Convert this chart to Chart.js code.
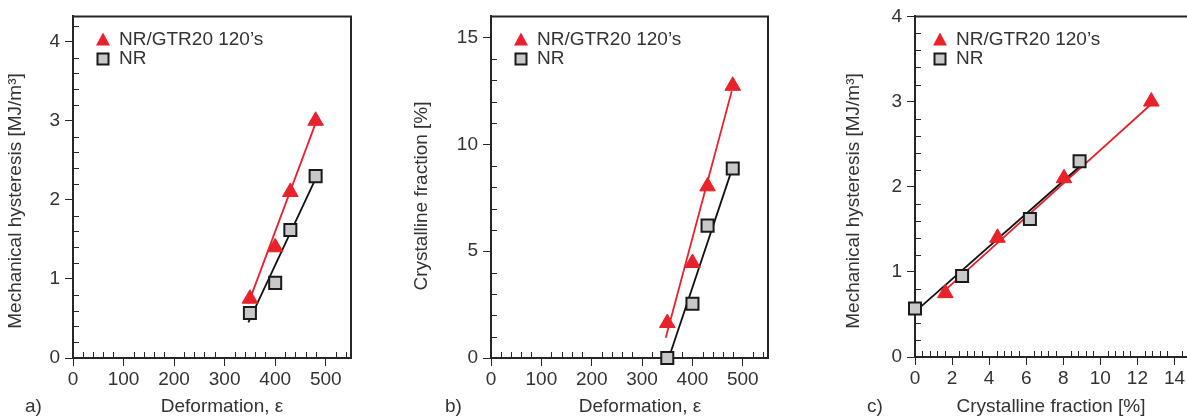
<!DOCTYPE html>
<html lang="en">
<head>
  <meta charset="UTF-8" />
  <title>Mechanical hysteresis and crystalline fraction</title>
  <script src="https://cdn.jsdelivr.net/npm/chart.js"></script>
  <style>
    html, body { margin: 0; padding: 0; background: #fff; }
    body { width: 1187px; height: 419px; overflow: hidden; position: relative; font-family: 'Liberation Sans', Arial, sans-serif; }
    .panel { position: absolute; top: 0; height: 419px; }
  </style>
</head>
<body>
  <div class="panel" style="left:0;width:400px"><canvas id="chartA" width="400" height="419"></canvas></div>
  <div class="panel" style="left:400px;width:390px"><canvas id="chartB" width="390" height="419"></canvas></div>
  <div class="panel" style="left:790px;width:420px"><canvas id="chartC" width="420" height="419"></canvas></div>

  <script>
    // values
    const deformation = [350, 400, 430, 480];
    const hysteresisGTR = [0.75, 1.40, 2.10, 3.00];
    const hysteresisNR = [0.57, 0.95, 1.62, 2.30];
    const crystallineGTR = [1.64, 4.45, 8.04, 12.75];
    const crystallineNR = [0.0, 2.54, 6.20, 8.88];

    // fit line end points (x, y) as drawn in the figure
    const fitA_GTR_x = [347, 480], fitA_GTR_y = [0.69, 2.97];
    const fitA_NR_x = [347, 478], fitA_NR_y = [0.45, 2.24];
    const fitB_GTR_x = [347, 478], fitB_GTR_y = [0.95, 12.5];
    const fitB_NR_x = [353, 478], fitB_NR_y = [0.0, 8.8];
    const fitC_GTR_x = [1.6, 12.8], fitC_GTR_y = [0.78, 2.98];
    const fitC_NR_x = [0.0, 8.9], fitC_NR_y = [0.53, 2.24];

    const legendLabels = ['NR/GTR20 120\u2019s', 'NR'];

    const RED = '#e8212b';
    const GREY = '#c8c8c8';
    const AXIS = '#262626';
    const TEXT = '#333333';
    const FONT = "'Liberation Sans', Arial, sans-serif";
    const FSIZE = 19;

    const pts = (xs, ys) => xs.map((x, i) => ({ x: x, y: ys[i] }));
    const isMultiple = (v, step) => Math.abs(v / step - Math.round(v / step)) < 1e-6;

    // frame + inward minor ticks, drawn under the markers
    const framePlugin = {
      id: 'frame',
      beforeDatasetsDraw(chart, args, o) {
        const { ctx, chartArea: a, scales: { x, y } } = chart;
        ctx.save();
        ctx.strokeStyle = AXIS;
        ctx.lineWidth = 2;
        ctx.beginPath();
        ctx.moveTo(a.left, a.top);
        ctx.lineTo(a.right, a.top);
        ctx.lineTo(a.right, a.bottom);
        ctx.stroke();

        ctx.lineWidth = 1;
        ctx.beginPath();
        for (let i = 1; i * o.xMinor <= x.max + 1e-9; i++) {
          const v = i * o.xMinor;
          if (isMultiple(v, o.xMajor)) continue;
          const px = Math.round(x.getPixelForValue(v)) + 0.5;
          ctx.moveTo(px, a.bottom);
          ctx.lineTo(px, a.bottom - 6);
        }
        for (let i = 1; i * o.yMinor <= y.max + 1e-9; i++) {
          const v = i * o.yMinor;
          if (isMultiple(v, o.yMajor)) continue;
          const py = Math.round(y.getPixelForValue(v)) + 0.5;
          ctx.moveTo(a.left, py);
          ctx.lineTo(a.left + 6, py);
        }
        ctx.stroke();
        ctx.restore();
      }
    };

    // legend, axis titles and panel letter
    const textPlugin = {
      id: 'texts',
      afterDraw(chart, args, o) {
        const { ctx, chartArea: a } = chart;
        ctx.save();
        ctx.font = FSIZE + 'px ' + FONT;
        ctx.textBaseline = 'middle';

        // legend
        const lx = a.left + o.legendDx;
        ctx.fillStyle = RED;
        ctx.beginPath();
        ctx.moveTo(lx, 40 - 7.5);
        ctx.lineTo(lx + 7, 40 + 5.5);
        ctx.lineTo(lx - 7, 40 + 5.5);
        ctx.closePath();
        ctx.fill();
        ctx.fillStyle = GREY;
        ctx.strokeStyle = '#1a1a1a';
        ctx.lineWidth = 2;
        ctx.fillRect(lx - 5.5, 59 - 5.5, 11, 11);
        ctx.strokeRect(lx - 5.5, 59 - 5.5, 11, 11);

        ctx.fillStyle = TEXT;
        ctx.textAlign = 'left';
        ctx.fillText(legendLabels[0], lx + 16, 40);
        ctx.fillText(legendLabels[1], lx + 16, 59);

        // x title and panel letter
        ctx.textAlign = 'center';
        ctx.fillText(o.xTitle, o.xTitleX, 407);
        ctx.textAlign = 'left';
        ctx.fillText(o.letter, o.letterX, 407);

        // y title
        ctx.translate(o.yTitleX, o.yTitleY);
        ctx.rotate(-Math.PI / 2);
        ctx.textAlign = 'center';
        ctx.fillText(o.yTitle, 0, 0);
        ctx.restore();
      }
    };

    function makePanel(id, p) {
      const H = 419;
      const W = document.getElementById(id).width;
      return new Chart(document.getElementById(id), {
        type: 'scatter',
        data: {
          datasets: [
            {
              label: legendLabels[0],
              data: p.gtr,
              pointStyle: 'triangle',
              pointRadius: 9,
              backgroundColor: RED,
              borderColor: RED,
              borderWidth: 1
            },
            {
              label: legendLabels[1],
              data: p.nr,
              pointStyle: 'rect',
              pointRadius: 8.5,
              backgroundColor: GREY,
              borderColor: '#1a1a1a',
              borderWidth: 2
            },
            {
              data: p.fitNR,
              showLine: true,
              pointRadius: 0,
              borderColor: '#111111',
              borderWidth: 1.8
            },
            {
              data: p.fitGTR,
              showLine: true,
              pointRadius: 0,
              borderColor: RED,
              borderWidth: 1.8
            }
          ]
        },
        options: {
          responsive: false,
          animation: false,
          events: [],
          clip: false,
          layout: { padding: { left: 0, top: p.top, right: W - p.right, bottom: 0 } },
          plugins: {
            legend: { display: false },
            tooltip: { enabled: false },
            frame: { xMinor: p.xMinor, xMajor: p.xStep, yMinor: p.yMinor, yMajor: p.yStep },
            texts: p.texts
          },
          scales: {
            x: {
              type: 'linear',
              min: 0,
              max: p.xMax,
              border: { display: true, color: AXIS, width: 2 },
              grid: { drawOnChartArea: false, drawTicks: true, tickLength: 8, tickColor: AXIS, tickWidth: 1 },
              ticks: { stepSize: p.xStep, includeBounds: false, autoSkip: false, color: TEXT, font: { family: FONT, size: FSIZE }, padding: 2, maxRotation: 0, callback: v => String(v) },
              afterBuildTicks: s => { s.ticks = s.ticks.filter(t => isMultiple(t.value, p.xStep)); },
              afterFit: s => { s.height = H - p.bottom; }
            },
            y: {
              type: 'linear',
              min: 0,
              max: p.yMax,
              border: { display: true, color: AXIS, width: 2 },
              grid: { drawOnChartArea: false, drawTicks: true, tickLength: 8, tickColor: AXIS, tickWidth: 1 },
              ticks: { stepSize: p.yStep, includeBounds: false, autoSkip: false, color: TEXT, font: { family: FONT, size: FSIZE }, padding: 5, callback: v => String(v) },
              afterBuildTicks: s => { s.ticks = s.ticks.filter(t => isMultiple(t.value, p.yStep)); },
              afterFit: s => { s.width = p.left; }
            }
          }
        },
        plugins: [framePlugin, textPlugin]
      });
    }

    makePanel('chartA', {
      gtr: pts(deformation, hysteresisGTR),
      nr: pts(deformation, hysteresisNR),
      fitGTR: pts(fitA_GTR_x, fitA_GTR_y),
      fitNR: pts(fitA_NR_x, fitA_NR_y),
      left: 73, right: 351, top: 15, bottom: 358,
      xMax: 550, xStep: 100, xMinor: 20,
      yMax: 4.32, yStep: 1, yMinor: 0.2,
      texts: {
        legendDx: 30, xTitle: 'Deformation, \u03b5', xTitleX: 222, letter: 'a)', letterX: 25,
        yTitle: 'Mechanical hysteresis [MJ/m\u00b3]', yTitleX: 16, yTitleY: 201
      }
    });

    makePanel('chartB', {
      gtr: pts(deformation, crystallineGTR),
      nr: pts(deformation, crystallineNR),
      fitGTR: pts(fitB_GTR_x, fitB_GTR_y),
      fitNR: pts(fitB_NR_x, fitB_NR_y),
      left: 91, right: 368, top: 15, bottom: 358,
      xMax: 550, xStep: 100, xMinor: 20,
      yMax: 16, yStep: 5, yMinor: 1,
      texts: {
        legendDx: 30, xTitle: 'Deformation, \u03b5', xTitleX: 240, letter: 'b)', letterX: 45,
        yTitle: 'Crystalline fraction [%]', yTitleX: 22, yTitleY: 196
      }
    });

    makePanel('chartC', {
      gtr: pts(crystallineGTR, hysteresisGTR),
      nr: pts(crystallineNR, hysteresisNR),
      fitGTR: pts(fitC_GTR_x, fitC_GTR_y),
      fitNR: pts(fitC_NR_x, fitC_NR_y),
      left: 125, right: 403, top: 15, bottom: 357,
      xMax: 15, xStep: 2, xMinor: 0.4,
      yMax: 4, yStep: 1, yMinor: 0.2,
      texts: {
        legendDx: 25, xTitle: 'Crystalline fraction [%]', xTitleX: 261, letter: 'c)', letterX: 77,
        yTitle: 'Mechanical hysteresis [MJ/m\u00b3]', yTitleX: 64, yTitleY: 201
      }
    });
  </script>
</body>
</html>
